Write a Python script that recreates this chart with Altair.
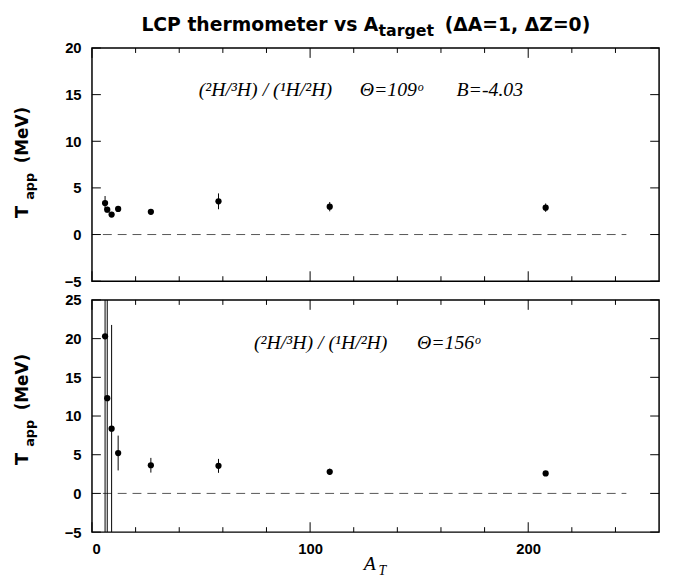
import altair as alt
import pandas as pd

# ---- data ----
A_top = [6, 7, 9, 12, 27, 58, 109, 208]
T_top = [3.38, 2.67, 2.14, 2.75, 2.43, 3.56, 2.99, 2.88]
E_top = [0.75, 0.3, 0.25, 0.3, 0.25, 0.85, 0.5, 0.45]

A_bot = [6, 7, 9, 12, 27, 58, 109, 208]
T_bot = [20.3, 12.3, 8.37, 5.22, 3.64, 3.56, 2.8, 2.58]
E_bot = [30, 20, 13.4, 2.25, 0.95, 0.9, 0.4, 0.3]

x_major = [0, 100, 200]
x_minor = [20, 40, 60, 80, 120, 140, 160, 180, 220, 240]
y_ticks_top = [-5, 0, 5, 10, 15, 20]
y_ticks_bot = [-5, 0, 5, 10, 15, 20, 25]
zero_x = [5, 245]
x_domain = [0, 260]
ydom_top = [-5, 20]
ydom_bot = [-5, 25]

title_parts = ["LCP thermometer vs A", "target", "(\u0394A=1, \u0394Z=0)"]
ytitle_parts = ["T", "app", "(MeV)"]
xtitle_parts = ["A", "T"]
ann_top = ["(\u00b2H/\u00b3H) / (\u00b9H/\u00b2H)", "\u0398=109\u1d52", "B=-4.03"]
ann_bot = ["(\u00b2H/\u00b3H) / (\u00b9H/\u00b2H)", "\u0398=156\u1d52"]

W = 574
H_TOP = 236
H_BOT = 235
SANS = "DejaVu Sans"
LAB = "Liberation Sans"
SERIF = "Liberation Serif"


def txt(s, x, y, size, font, weight="normal", style="normal", angle=0, align="left"):
    return alt.Chart(pd.DataFrame({"t": [s]})).mark_text(
        font=font, fontSize=size, fontWeight=weight, fontStyle=style,
        angle=angle, align=align, baseline="alphabetic", color="black"
    ).encode(text="t:N", x=alt.value(x), y=alt.value(y))


def panel(A, T, E, ydom, yticks, H, show_x, extra, ybase):
    xs = alt.Scale(domain=x_domain, nice=False, zero=False)
    ys = alt.Scale(domain=ydom, nice=False, zero=False)
    if show_x:
        xax = alt.Axis(values=x_major, format="d", title=None, ticks=False, tickSize=0,
                       domain=False, grid=False, labelFont=LAB, labelFontSize=15,
                       labelFontWeight="bold", labelPadding=10, labelColor="black")
    else:
        xax = None
    yax = alt.Axis(values=yticks, format="d", title=None, ticks=False, tickSize=0,
                   domain=False, grid=False, labelFont=LAB, labelFontSize=15,
                   labelFontWeight="bold", labelPadding=11, labelColor="black")

    df = pd.DataFrame({"A": A, "T": T, "E": E})
    base = alt.Chart(df)
    err = base.transform_calculate(
        lo="datum.T - datum.E", hi="datum.T + datum.E"
    ).mark_rule(color="black", strokeWidth=1, clip=True).encode(
        x=alt.X("A:Q", scale=xs, axis=xax),
        y=alt.Y("lo:Q", scale=ys, axis=yax),
        y2="hi:Q",
    )
    pts = base.mark_circle(size=40, color="black", opacity=1).encode(
        x=alt.X("A:Q", scale=xs, axis=xax),
        y=alt.Y("T:Q", scale=ys, axis=yax),
    )
    zdf = pd.DataFrame({"x0": [zero_x[0]], "x1": [zero_x[1]], "y": [0]})
    zero = alt.Chart(zdf).mark_rule(color="#555555", strokeWidth=1, strokeDash=[9, 6]).encode(
        x=alt.X("x0:Q", scale=xs, axis=xax), x2="x1:Q",
        y=alt.Y("y:Q", scale=ys, axis=yax),
    )
    layers = [zero, err, pts]
    # inward ticks
    for vals, ln in [(x_major, 10), (x_minor, 5)]:
        tdf = pd.DataFrame({"v": vals})
        for y0, y1 in [(0, ln), (H, H - ln)]:
            layers.append(alt.Chart(tdf).mark_rule(color="black", strokeWidth=1).encode(
                x=alt.X("v:Q", scale=xs, axis=xax), y=alt.value(y0), y2=alt.value(y1)))
    ydf = pd.DataFrame({"v": yticks})
    for x0, x1 in [(0, 9), (W, W - 9)]:
        layers.append(alt.Chart(ydf).mark_rule(color="black", strokeWidth=1).encode(
            y=alt.Y("v:Q", scale=ys, axis=yax), x=alt.value(x0), x2=alt.value(x1)))
    # y title
    layers.append(txt(ytitle_parts[0], -65, ybase, 18, SANS, "bold", angle=270))
    layers.append(txt(ytitle_parts[1], -59, ybase - 18.3, 13, SANS, "bold", angle=270))
    layers.append(txt(ytitle_parts[2], -65, ybase - 55.3, 17, SANS, "bold", angle=270))
    layers += extra
    return alt.layer(*layers).properties(width=W, height=H)


top_extra = [
    txt(title_parts[0], 50, -17.6, 19, SANS, "bold"),
    txt(title_parts[1], 290, -12.6, 16, SANS, "bold"),
    txt(title_parts[2], 357, -17.6, 19, SANS, "bold"),
    txt(ann_top[0], 108, 49, 20, SERIF, style="italic"),
    txt(ann_top[1], 271, 49, 20, SERIF, style="italic"),
    txt(ann_top[2], 369, 49, 20, SERIF, style="italic"),
]
bot_extra = [
    txt(ann_bot[0], 164, 50, 20, SERIF, style="italic"),
    txt(ann_bot[1], 329, 50, 20, SERIF, style="italic"),
    txt(xtitle_parts[0], 275, 273, 20, SERIF, style="italic"),
    txt(xtitle_parts[1], 290, 278, 14, SERIF, style="italic"),
]

top = panel(A_top, T_top, E_top, ydom_top, y_ticks_top, H_TOP, False, top_extra, 172)
bot = panel(A_bot, T_bot, E_bot, ydom_bot, y_ticks_bot, H_BOT, True, bot_extra, 167)

chart = alt.vconcat(top, bot, spacing=2).properties(
    padding={"left": 5, "top": 3, "right": 5, "bottom": 0}
).configure_view(stroke="black", strokeWidth=1.5).configure_concat(spacing=2)

chart.save("out.html", embed_options={"renderer": "svg", "actions": False})
